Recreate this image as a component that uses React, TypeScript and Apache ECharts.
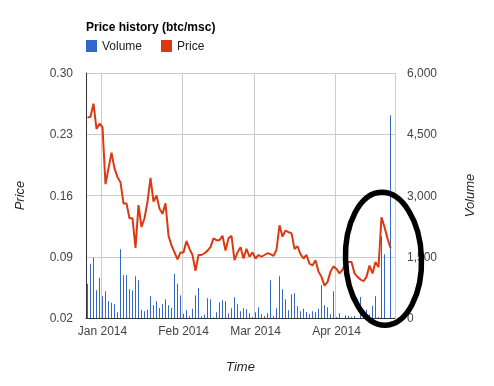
import React, { useEffect, useRef } from "react";
import * as echarts from "echarts";

const FONT = 'Arial, "Liberation Sans", sans-serif';

const monthLabels = ["Jan 2014", "Feb 2014", "Mar 2014", "Apr 2014"];
const monthStartIndex = [5, 32, 56, 83];
const priceTicks = [0.02, 0.09, 0.16, 0.23, 0.3];
const volumeTicks = [0, 1500, 3000, 4500, 6000];

const price = [
  0.249, 0.25, 0.265, 0.236, 0.242, 0.238, 0.173, 0.191, 0.209, 0.191,
  0.181, 0.175, 0.151, 0.151, 0.134, 0.134, 0.1, 0.149, 0.124, 0.134,
  0.153, 0.18, 0.153, 0.16, 0.145, 0.139, 0.151, 0.114, 0.103, 0.095,
  0.087, 0.095, 0.095, 0.108, 0.099, 0.092, 0.074, 0.092, 0.092, 0.094,
  0.097, 0.101, 0.111, 0.109, 0.109, 0.114, 0.097, 0.111, 0.114, 0.086,
  0.095, 0.101, 0.088, 0.099, 0.09, 0.095, 0.088, 0.092, 0.09, 0.092,
  0.094, 0.093, 0.091, 0.098, 0.126, 0.113, 0.12, 0.118, 0.117, 0.099,
  0.102, 0.093, 0.088, 0.092, 0.082, 0.08, 0.086, 0.073, 0.067, 0.057,
  0.061, 0.073, 0.079, 0.076, 0.071, 0.075, 0.083, 0.084, 0.084, 0.071,
  0.067, 0.064, 0.062, 0.067, 0.08, 0.071, 0.084, 0.078, 0.135, 0.124,
  0.111, 0.1,
];

const volume = [
  841, 1331, 1478, 678, 988, 531, 653, 408, 376, 335,
  139, 1682, 1045, 1045, 702, 678, 1020, 922, 204, 163,
  204, 531, 310, 408, 245, 335, 457, 310, 245, 1086,
  841, 555, 106, 188, 49, 229, 556, 735, 49, 82,
  482, 457, 16, 139, 384, 433, 408, 114, 237, 506,
  335, 163, 237, 212, 114, 33, 139, 261, 90, 49,
  114, 922, 49, 237, 1020, 702, 457, 188, 580, 604,
  286, 163, 229, 147, 90, 163, 139, 229, 800, 310,
  261, 90, 653, 24, 114, 0, 65, 49, 33, 49,
  0, 514, 0, 200, 90, 302, 531, 24, 2001, 1560,
  0, 4964,
];

export default function App() {
  const ref = useRef<HTMLDivElement>(null);
  useEffect(() => {
    const chart = echarts.init(ref.current!, null, { renderer: "svg" });
    // one extra empty slot at the end, as the reference's axis runs a little past the last sample
    const categories = price.map((_, i) => String(i)).concat([String(price.length)]);
    const isMonth = (i: number) => monthStartIndex.indexOf(i) >= 0;
    chart.setOption({
      animation: false,
      textStyle: { fontFamily: FONT },
      title: {
        text: "Price history (btc/msc)",
        left: 86,
        top: 21,
        padding: 0,
        textStyle: { fontSize: 12, fontWeight: "bold", color: "#000", fontFamily: FONT },
      },
      legend: {
        left: 86,
        top: 40,
        padding: 0,
        icon: "rect",
        itemWidth: 11,
        itemHeight: 12,
        itemGap: 19,
        data: ["Volume", "Price"],
        textStyle: { fontSize: 12, color: "#222", fontFamily: FONT },
      },
      grid: { left: 86, right: 99, top: 73, bottom: 68 },
      xAxis: {
        type: "category",
        data: categories,
        boundaryGap: true,
        name: "Time",
        nameLocation: "middle",
        nameGap: 42,
        nameTextStyle: { fontStyle: "italic", fontSize: 13, color: "#222", fontFamily: FONT },
        axisLine: { show: true, lineStyle: { color: "#333", width: 1 } },
        axisTick: { show: false },
        axisLabel: {
          interval: (i: number) => isMonth(i),
          formatter: (_v: string, i: number) => {
            const k = monthStartIndex.indexOf(i);
            return k >= 0 ? monthLabels[k] : "";
          },
          margin: 7,
          color: "#444",
          fontSize: 12,
          fontFamily: FONT,
        },
        splitLine: {
          show: true,
          interval: (i: number) => isMonth(i),
          lineStyle: { color: "#ccc", width: 1 },
        },
      },
      yAxis: [
        {
          type: "value",
          min: priceTicks[0],
          max: priceTicks[priceTicks.length - 1],
          interval: 0.07,
          name: "Price",
          nameLocation: "middle",
          nameRotate: 90,
          nameGap: 60,
          nameTextStyle: { fontStyle: "italic", fontSize: 13, color: "#222", fontFamily: FONT },
          axisLine: { show: true, lineStyle: { color: "#333", width: 1 } },
          axisTick: { show: false },
          axisLabel: {
            margin: 13,
            color: "#444",
            fontSize: 12,
            fontFamily: FONT,
            formatter: (v: number) => v.toFixed(2),
          },
          splitLine: { show: true, lineStyle: { color: "#ccc", width: 1 } },
        },
        {
          type: "value",
          position: "right",
          min: volumeTicks[0],
          max: volumeTicks[volumeTicks.length - 1],
          interval: 1500,
          name: "Volume",
          nameLocation: "middle",
          nameRotate: 90,
          nameGap: 68,
          nameTextStyle: { fontStyle: "italic", fontSize: 13, color: "#222", fontFamily: FONT },
          axisLine: { show: false },
          axisTick: { show: false },
          axisLabel: {
            margin: 12,
            color: "#444",
            fontSize: 12,
            fontFamily: FONT,
            formatter: (v: number) => Math.round(v).toLocaleString("en-US"),
          },
          splitLine: { show: false },
        },
      ],
      series: [
        {
          name: "Volume",
          type: "bar",
          yAxisIndex: 1,
          data: volume,
          barWidth: 1,
          itemStyle: { color: "#3366cc" },
        },
        {
          name: "Price",
          type: "line",
          yAxisIndex: 0,
          data: price,
          symbol: "none",
          showSymbol: false,
          lineStyle: { width: 2, color: "#dc3912" },
          itemStyle: { color: "#dc3912" },
        },
      ],
      graphic: [
        {
          type: "ellipse",
          x: 383.5,
          y: 258.8,
          rotation: 0.035,
          shape: { cx: 0, cy: 0, rx: 38, ry: 66.5 },
          style: { fill: "none", stroke: "#000", lineWidth: 5.5 },
          z: 100,
        },
      ],
    });
    return () => chart.dispose();
  }, []);
  return (
    <div
      ref={ref}
      style={{ position: "fixed", left: 0, top: 0, width: 494, height: 386 }}
    />
  );
}
